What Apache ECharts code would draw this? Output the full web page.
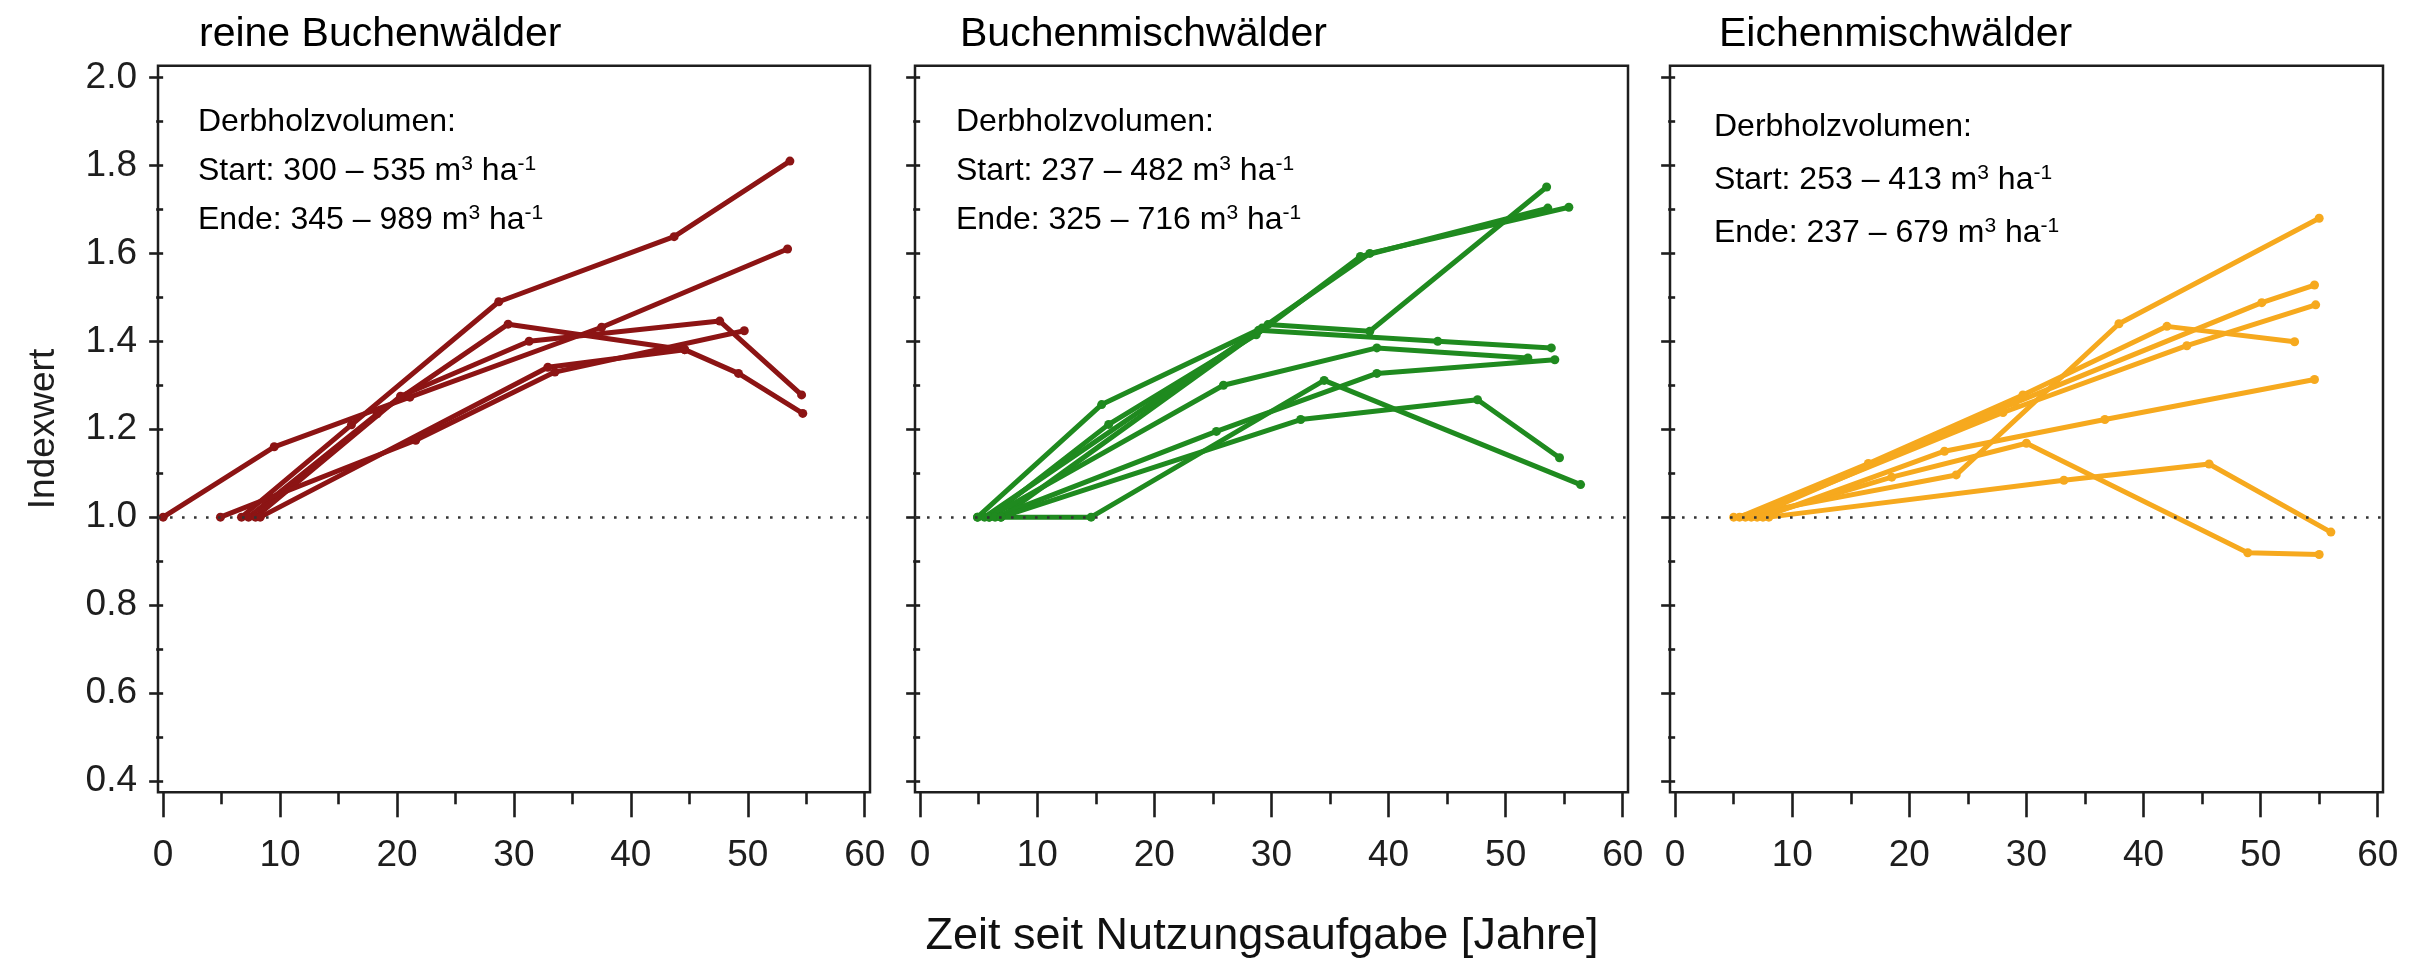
<!DOCTYPE html>
<html>
<head>
<meta charset="utf-8">
<script src="https://cdn.jsdelivr.net/npm/echarts@6/dist/echarts.min.js"></script>
<style>
  html, body { margin: 0; padding: 0; background: #ffffff; }
  #chart { width: 2428px; height: 967px; }
</style>
</head>
<body>
<div id="chart"></div>
<script>
// Tick values
const xMajorTicks = [0, 10, 20, 30, 40, 50, 60];
const xMinorTicks = [5, 15, 25, 35, 45, 55];
const yMajorTicks = [0.4, 0.6, 0.8, 1.0, 1.2, 1.4, 1.6, 1.8, 2.0];
const yMinorTicks = [0.5, 0.7, 0.9, 1.1, 1.3, 1.5, 1.7, 1.9];

// Panel titles and stand volume notes
const panelTitles = ['reine Buchenwälder', 'Buchenmischwälder', 'Eichenmischwälder'];
const volumeStart = ['300 – 535', '237 – 482', '253 – 413'];
const volumeEnd = ['345 – 989', '325 – 716', '237 – 679'];

// Index values per plot: [years since abandonment, index]
const reineBuchen = [
  [[0, 1.0], [9.5, 1.16], [21.1, 1.273], [37.5, 1.432], [53.4, 1.61]],
  [[6.7, 1.0], [16.1, 1.21], [28.7, 1.49], [43.7, 1.638], [53.6, 1.81]],
  [[7.3, 1.0], [18.3, 1.235], [29.5, 1.439], [44.6, 1.381], [49.2, 1.327], [54.7, 1.236]],
  [[7.9, 1.0], [20.3, 1.275], [31.3, 1.40], [47.6, 1.446], [54.6, 1.278]],
  [[8.3, 1.0], [32.9, 1.341], [44.6, 1.381]],
  [[4.9, 1.0], [21.6, 1.175], [33.5, 1.33], [49.7, 1.424]]
];

const buchenMisch = [
  [[4.9, 1.0], [15.5, 1.256], [29.2, 1.43], [38.4, 1.60], [55.4, 1.705]],
  [[5.9, 1.0], [16.1, 1.211], [28.7, 1.415], [37.6, 1.593], [53.6, 1.703]],
  [[6.9, 1.0], [29.7, 1.438], [38.4, 1.423], [53.5, 1.751]],
  [[5.5, 1.0], [28.9, 1.425], [44.2, 1.40], [53.9, 1.385]],
  [[5.9, 1.0], [25.9, 1.30], [39.0, 1.385], [51.9, 1.362]],
  [[6.4, 1.0], [25.3, 1.195], [39.0, 1.327], [54.2, 1.358]],
  [[6.9, 1.0], [32.5, 1.222], [47.6, 1.267], [54.6, 1.135]],
  [[4.9, 1.0], [14.6, 1.0], [34.5, 1.311], [56.4, 1.074]]
];

const eichenMisch = [
  [[5.0, 1.0], [24.0, 1.096], [37.9, 1.44], [55.0, 1.68]],
  [[5.5, 1.0], [16.5, 1.122], [29.7, 1.278], [42.0, 1.434], [52.9, 1.399]],
  [[6.0, 1.0], [28.0, 1.238], [43.7, 1.39], [54.7, 1.483]],
  [[6.5, 1.0], [29.0, 1.26], [50.1, 1.488], [54.6, 1.528]],
  [[7.0, 1.0], [18.5, 1.091], [30.0, 1.168], [48.9, 0.919], [55.0, 0.915]],
  [[7.5, 1.0], [23.0, 1.15], [36.7, 1.222], [54.6, 1.313]],
  [[8.0, 1.0], [33.2, 1.084], [45.6, 1.121], [56.0, 0.966]]
];

const panelData = [reineBuchen, buchenMisch, eichenMisch];
const panelColors = ['#8c1414', '#1f8a1f', '#f6a91e'];

// Layout of the three framed panels (pixels)
const frames = [
  { left: 158, width: 712 },
  { left: 915, width: 713 },
  { left: 1670, width: 713 }
];
const frameTop = 65.7;
const frameHeight = 726.6;
const xRange = [-0.44, 60.45];
const yRange = [0.374, 2.027];

const FONT = '"Liberation Sans", Arial, Helvetica, sans-serif';
const INK = '#1e1e1e';

const grids = [], xAxes = [], yAxes = [], series = [], graphics = [];

frames.forEach(function (f, i) {
  grids.push({
    left: f.left, top: frameTop, width: f.width, height: frameHeight,
    show: true, borderColor: INK, borderWidth: 2.5, backgroundColor: 'transparent'
  });
  // major x ticks + labels
  xAxes.push({
    type: 'value', gridIndex: i, position: 'bottom', min: xRange[0], max: xRange[1],
    axisLine: { show: false }, splitLine: { show: false },
    axisTick: { show: true, customValues: xMajorTicks, length: 25, lineStyle: { color: INK, width: 2.6 } },
    axisLabel: { show: true, customValues: xMajorTicks, margin: 45, fontSize: 37, color: INK, fontFamily: FONT }
  });
  // minor x ticks
  xAxes.push({
    type: 'value', gridIndex: i, position: 'bottom', min: xRange[0], max: xRange[1],
    axisLine: { show: false }, splitLine: { show: false }, axisLabel: { show: false },
    axisTick: { show: true, customValues: xMinorTicks, length: 12, lineStyle: { color: INK, width: 2.6 } }
  });
  // major y ticks (labels on the first panel only)
  yAxes.push({
    type: 'value', gridIndex: i, position: 'left', min: yRange[0], max: yRange[1],
    axisLine: { show: false }, splitLine: { show: false },
    axisTick: { show: true, customValues: yMajorTicks, length: 14, lineStyle: { color: INK, width: 2.6 } },
    axisLabel: {
      show: i === 0, customValues: yMajorTicks, margin: 21, fontSize: 37, color: INK, fontFamily: FONT,
      formatter: function (v) { return v.toFixed(1); }
    },
    name: i === 0 ? 'Indexwert' : '',
    nameLocation: 'middle', nameGap: 96, nameRotate: 90,
    nameTextStyle: { fontSize: 37, color: INK, fontFamily: FONT }
  });
  // minor y ticks
  yAxes.push({
    type: 'value', gridIndex: i, position: 'left', min: yRange[0], max: yRange[1],
    axisLine: { show: false }, splitLine: { show: false }, axisLabel: { show: false },
    axisTick: { show: true, customValues: yMinorTicks, length: 7, lineStyle: { color: INK, width: 2.6 } }
  });

  // reference level 1.0
  series.push({
    type: 'line', xAxisIndex: 2 * i, yAxisIndex: 2 * i, data: [], silent: true, z: 1,
    markLine: {
      silent: true, symbol: 'none', animation: false,
      label: { show: false },
      lineStyle: { color: '#333333', width: 2.6, type: [2.6, 9.4] },
      data: [{ yAxis: 1.0 }]
    }
  });

  panelData[i].forEach(function (pts) {
    series.push({
      type: 'line', xAxisIndex: 2 * i, yAxisIndex: 2 * i, z: 3,
      data: pts, animation: false,
      symbol: 'circle', symbolSize: 9, showSymbol: true,
      lineStyle: { color: panelColors[i], width: 5 },
      itemStyle: { color: panelColors[i] }
    });
  });

  // panel title
  const titleX = [199, 960, 1719][i];
  graphics.push({
    type: 'text', left: titleX, top: 14,
    style: { text: panelTitles[i], fontSize: 41, fill: '#000', fontFamily: FONT }
  });
  // volume notes
  const tx = [198, 956, 1714][i];
  const ty = [122, 122, 127][i];
  const gap = [49, 49, 53][i];
  const rich = {
    n: { fontSize: 32, fill: '#000', fontFamily: FONT },
    sup: { fontSize: 21, fill: '#000', fontFamily: FONT, verticalAlign: 'top', padding: [0, 0, 14, 0] }
  };
  graphics.push({
    type: 'text', x: tx, y: ty,
    style: { text: 'Derbholzvolumen:', fontSize: 32, fill: '#000', fontFamily: FONT, verticalAlign: 'middle' }
  });
  graphics.push({
    type: 'text', x: tx, y: ty + gap,
    style: {
      text: '{n|Start: ' + volumeStart[i] + ' m}{sup|3}{n| ha}{sup|-1}',
      rich: rich, verticalAlign: 'middle'
    }
  });
  graphics.push({
    type: 'text', x: tx, y: ty + 2 * gap,
    style: {
      text: '{n|Ende: ' + volumeEnd[i] + ' m}{sup|3}{n| ha}{sup|-1}',
      rich: rich, verticalAlign: 'middle'
    }
  });
});

// shared x axis title
graphics.push({
  type: 'text', x: 1262, y: 937,
  style: {
    text: 'Zeit seit Nutzungsaufgabe [Jahre]', fontSize: 45, fill: '#111', fontFamily: FONT,
    align: 'center', verticalAlign: 'middle'
  }
});

const chart = echarts.init(document.getElementById('chart'), null, { renderer: 'canvas' });
chart.setOption({
  animation: false,
  backgroundColor: '#ffffff',
  grid: grids,
  xAxis: xAxes,
  yAxis: yAxes,
  series: series,
  graphic: graphics
});
</script>
</body>
</html>
